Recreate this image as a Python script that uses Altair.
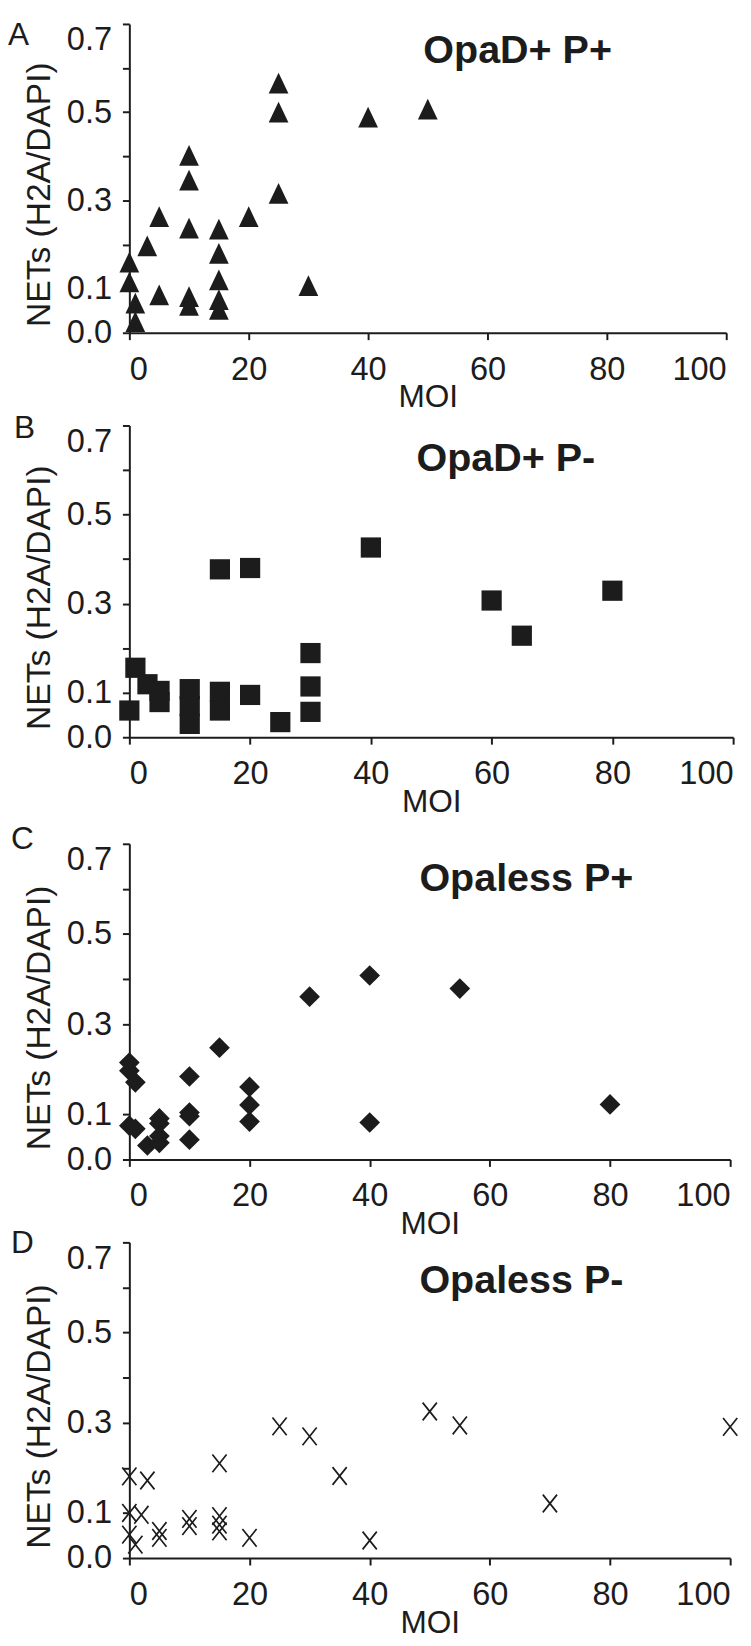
import altair as alt
import pandas as pd

# ---- data ----
letters = ["A", "B", "C", "D"]
titles = ["OpaD+ P+", "OpaD+ P-", "Opaless P+", "Opaless P-"]

moi_a = [0, 0, 1, 1, 3, 5, 5, 10, 10, 10, 10, 10, 15, 15, 15, 15, 15, 20, 25, 25, 25, 30, 40, 50]
net_a = [0.16, 0.115, 0.067, 0.025, 0.197, 0.263, 0.086, 0.402, 0.346, 0.237, 0.082, 0.062,
         0.235, 0.18, 0.12, 0.075, 0.053, 0.263, 0.566, 0.50, 0.316, 0.107, 0.489, 0.507]

moi_b = [0, 1, 3, 5, 5, 10, 10, 10, 15, 15, 15, 20, 20, 25, 30, 30, 30, 40, 60, 65, 80]
net_b = [0.060, 0.156, 0.119, 0.104, 0.079, 0.108, 0.07, 0.03, 0.102, 0.060, 0.377, 0.095,
         0.38, 0.034, 0.189, 0.114, 0.057, 0.426, 0.307, 0.228, 0.329]

moi_c = [0, 0, 1, 0, 1, 3, 5, 5, 5, 5, 10, 10, 10, 10, 15, 20, 20, 20, 30, 40, 40, 55, 80]
net_c = [0.215, 0.197, 0.171, 0.075, 0.068, 0.031, 0.091, 0.08, 0.052, 0.037, 0.184, 0.104,
         0.096, 0.044, 0.248, 0.161, 0.121, 0.084, 0.361, 0.408, 0.082, 0.379, 0.122]

moi_d = [0, 3, 0, 2, 0, 1, 5, 5, 10, 10, 15, 15, 15, 15, 20, 25, 30, 35, 40, 50, 55, 70, 100]
net_d = [0.181, 0.172, 0.100, 0.096, 0.052, 0.030, 0.060, 0.045, 0.087, 0.071, 0.21, 0.093,
         0.074, 0.059, 0.045, 0.292, 0.270, 0.182, 0.039, 0.325, 0.294, 0.121, 0.291]

x_ticks = [0, 20, 40, 60, 80, 100]
y_ticks = [0.0, 0.1, 0.2, 0.3, 0.4, 0.5, 0.6, 0.7]

# ---- styling ----
FONT = "Liberation Sans"
INK = "#1c1c1c"
widths = [605, 612, 609, 609]
heights = [313, 316, 320, 320]
title_base = [40, 46, 48, 51]     # panel-name baseline below plot top (px)
letter_base = [21, 13, 5, 11]     # panel-letter baseline below plot top (px)
letter_x = [-123, -117, -120, -120]

shapes = [
    dict(shape="M0,-1.05L1,1.05L-1,1.05Z", size=400, filled=True),
    dict(shape="square", size=420, filled=True),
    dict(shape="diamond", size=441, filled=True),
    dict(shape="M-0.8,-1L0.8,1M-0.8,1L0.8,-1", size=324, filled=False, strokeWidth=1.7),
]

label_expr = ("(datum.value > 0.15 && datum.value < 0.25) || (datum.value > 0.35 && datum.value < 0.45)"
              " || (datum.value > 0.55 && datum.value < 0.65) ? '' : format(datum.value, '.1f')")


def panel(i, moi, net):
    h = heights[i]
    w = widths[i]
    df = pd.DataFrame({"MOI": moi, "NETs": net})
    x = alt.X("MOI:Q",
              scale=alt.Scale(domain=[0, 100], nice=False, zero=False),
              axis=alt.Axis(values=x_ticks, title="MOI", labelFlush=True, format="d",
                            labelPadding=14, titlePadding=-4))
    y = alt.Y("NETs:Q",
              scale=alt.Scale(domain=[0, 0.7], nice=False),
              axis=alt.Axis(values=y_ticks, labelExpr=label_expr, title="NETs (H2A/DAPI)",
                            labelPadding=11, titlePadding=10, titleFontSize=34,
                            titleY=h / 2 + 16,
                            labelOffset={"condition": {"test": "datum.value > 0.65", "value": 16},
                                         "value": 0}))
    pts = alt.Chart(df).mark_point(color=INK, opacity=1, **shapes[i]).encode(x=x, y=y)
    ttl = alt.Chart(pd.DataFrame({"t": [titles[i]]})).mark_text(
        align="left", baseline="alphabetic", font=FONT, fontSize=40, fontWeight="bold", color=INK
    ).encode(x=alt.value(295 - (w - 608)), y=alt.value(title_base[i]), text="t:N")
    let = alt.Chart(pd.DataFrame({"t": [letters[i]]})).mark_text(
        align="left", baseline="alphabetic", font=FONT, fontSize=32, color=INK
    ).encode(x=alt.value(letter_x[i]), y=alt.value(letter_base[i]), text="t:N")
    return alt.layer(pts, ttl, let).properties(width=w, height=h)


pa = panel(0, moi_a, net_a)
pb = panel(1, moi_b, net_b)
pc = panel(2, moi_c, net_c)
pd_ = panel(3, moi_d, net_d)

chart = alt.vconcat(
    pa,
    alt.vconcat(pb, alt.vconcat(pc, pd_, spacing=-12), spacing=6),
    spacing=0,
).properties(
    padding={"left": 0, "top": 0, "right": 2, "bottom": 0}
).configure_view(stroke=None).configure_axis(
    grid=False, domainColor=INK, domainWidth=2, tickColor=INK, tickWidth=2, tickSize=7,
    labelFont=FONT, labelFontSize=33, labelColor=INK,
    titleFont=FONT, titleFontSize=32, titleFontWeight="normal", titleColor=INK,
)

chart.save("out.html", embed_options={"renderer": "svg", "actions": False})
